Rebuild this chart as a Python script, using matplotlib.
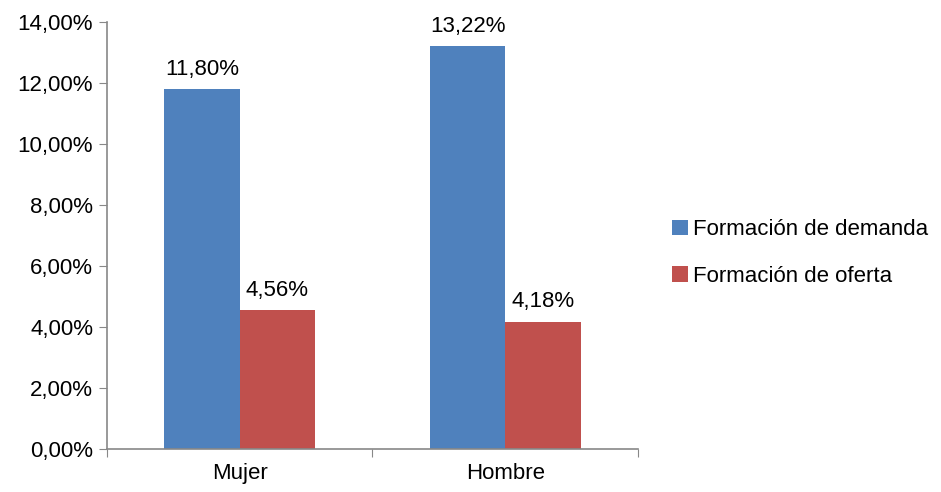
import matplotlib
matplotlib.use("Agg")
import matplotlib.pyplot as plt
import numpy as np

categories = ["Mujer", "Hombre"]
demanda = [11.80, 13.22]
oferta = [4.56, 4.18]
series_names = ["Formación de demanda", "Formación de oferta"]
yticks = np.arange(0, 15, 2)

plt.rcParams['font.family'] = ['Liberation Sans', 'DejaVu Sans']

fig = plt.figure(figsize=(9.41, 4.92), dpi=100)
ax = fig.add_axes([0.1137, 0.0874, 0.5643, 0.8679])

x = np.arange(len(categories))
w = 0.284
b1 = ax.bar(x - w/2, demanda, w, color="#4F81BD", label=series_names[0])
b2 = ax.bar(x + w/2, oferta, w, color="#C0504D", label=series_names[1])

def fmt(v):
    return ("%.2f%%" % v).replace(".", ",")

for bars, vals in ((b1, demanda), (b2, oferta)):
    for rect, v in zip(bars, vals):
        ax.text(rect.get_x() + rect.get_width()/2, v + 0.3, fmt(v),
                ha="center", va="bottom", fontsize=16)

ax.set_xlim(-0.5, 1.5)
ax.set_ylim(0, 14)
ax.set_yticks(yticks)
ax.set_yticklabels([fmt(v) for v in yticks], fontsize=16)
ax.set_xticks([-0.5, 0.5, 1.5])
ax.set_xticklabels([])
ax.set_xticks(x, minor=True)
ax.set_xticklabels(categories, minor=True, fontsize=16)
ax.tick_params(axis="x", which="minor", length=0, pad=10)
ax.tick_params(axis="x", which="major", length=6, color="#888888")
ax.tick_params(axis="y", length=6, color="#888888", pad=4)

for s in ("top", "right"):
    ax.spines[s].set_visible(False)
for s in ("left", "bottom"):
    ax.spines[s].set_color("#888888")
    ax.spines[s].set_linewidth(1.2)

fig.legend(loc="center left", bbox_to_anchor=(0.693, 0.486), frameon=False,
           fontsize=16, handlelength=0.7, handleheight=0.7, handletextpad=0.25,
           labelspacing=1.15)

fig.savefig("out.png", dpi=100)
